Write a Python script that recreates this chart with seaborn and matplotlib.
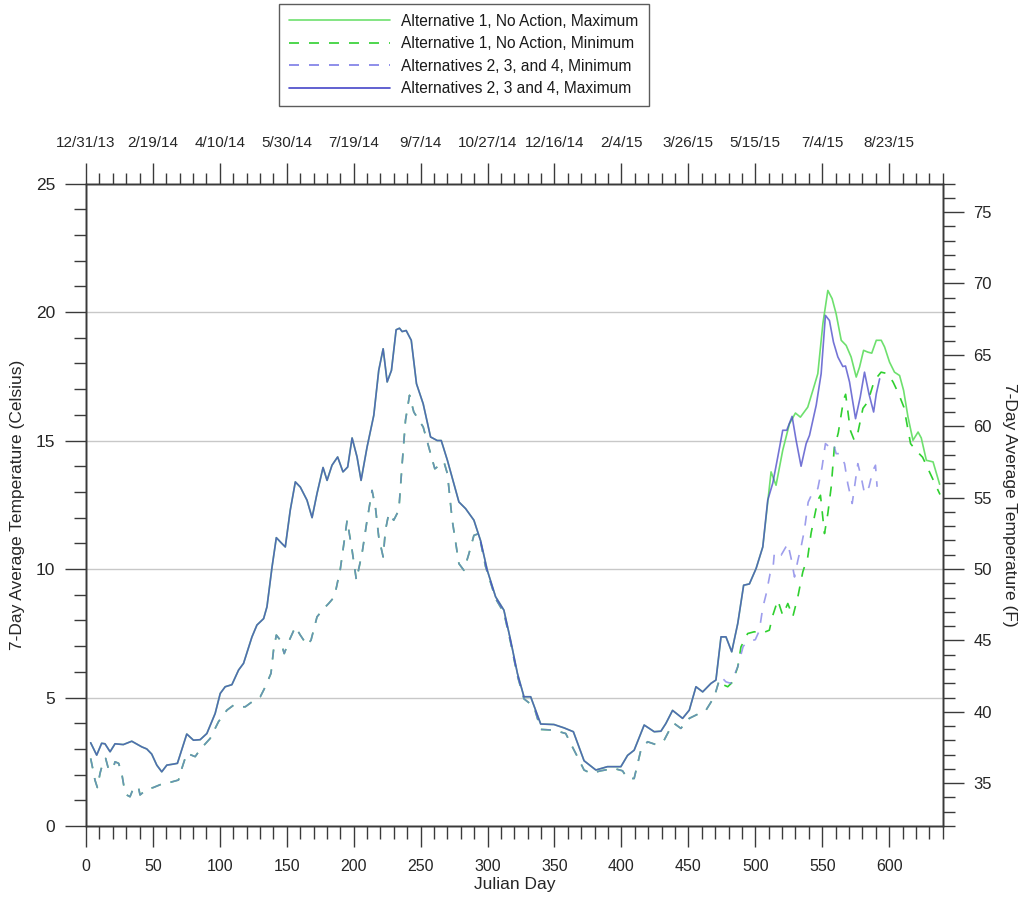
import numpy as np
import pandas as pd
import matplotlib
matplotlib.use("Agg")
import matplotlib.pyplot as plt
import seaborn as sns
from matplotlib.ticker import MultipleLocator, FixedLocator, FixedFormatter

sns.set_style("white")
plt.rcParams['font.family'] = ['Liberation Sans', 'DejaVu Sans']
plt.rcParams['text.color'] = '#1a1a1a'

# ---- 7-day average maximum, common to all alternatives until late spring 2015
shared_max_day = [3.5, 8, 11.7, 14.2, 18, 21.7, 27.9, 34.2, 41.7, 45.4, 49.1, 52.9, 56.6,
                  60.4, 65.3, 68.3, 75.3, 80.3, 85.3, 90.3, 96.5, 100.3, 104, 109, 114,
                  117.7, 124, 127.7, 132.7, 135.2, 139, 142.2, 146.4, 148.9, 152.6, 156.4,
                  160.1, 165.1, 168.9, 172.6, 177.1, 180.1, 183.8, 188, 192, 195.5, 198.8,
                  202.5, 205.5, 210, 215, 218.7, 222, 225, 228.2, 231.7, 234.2, 236.2,
                  239.2, 243, 246.9, 251.9, 257.4, 262.4, 265.4, 270, 278.6, 283.6, 289.8,
                  294.8, 299.8, 306, 312.2, 317.2, 322.3, 327.2, 332.2, 339.7, 349.6,
                  357.1, 364.1, 372.1, 380.9, 389.6, 399.6, 404.6, 409.5, 417, 424.5,
                  429.5, 433.2, 438.2, 445.7, 450.7, 455.7, 460.7, 466.9, 470.6, 474.4,
                  478.1, 482.4, 486.9, 491.3, 495.6, 500.6, 505.6]
shared_max_temp = [3.24, 2.76, 3.22, 3.2, 2.89, 3.2, 3.17, 3.3, 3.08, 3.0, 2.8, 2.37, 2.11,
                   2.37, 2.41, 2.44, 3.58, 3.34, 3.36, 3.6, 4.38, 5.16, 5.42, 5.5, 6.07,
                   6.33, 7.36, 7.82, 8.07, 8.53, 10.08, 11.22, 10.99, 10.86, 12.29, 13.39,
                   13.19, 12.68, 12.0, 12.94, 13.95, 13.45, 14.04, 14.36, 13.78, 13.97, 15.1,
                   14.36, 13.45, 14.75, 15.98, 17.73, 18.57, 17.28, 17.73, 19.31, 19.37, 19.24,
                   19.28, 18.9, 17.21, 16.43, 15.14, 15.0, 15.0, 14.23, 12.61, 12.35, 11.9,
                   11.1, 9.95, 8.92, 8.4, 7.23, 5.94, 5.03, 5.03, 3.97, 3.95,
                   3.82, 3.67, 2.54, 2.18, 2.31, 2.31, 2.75, 2.95, 3.93, 3.67,
                   3.69, 3.99, 4.5, 4.19, 4.51, 5.42, 5.22, 5.55, 5.68, 7.36,
                   7.36, 6.78, 7.88, 9.37, 9.42, 10.02, 10.86]

# ---- 7-day average minimum, common to all alternatives until late spring 2015
shared_min_day = [3.5, 5, 6.7, 8.5, 10.5, 12.5, 14.7, 16.7, 20, 21.7, 24.4, 26.7, 28.4, 30.4,
                  32.9, 35.4, 39.1, 40.4, 45.4, 50.4, 57.8, 62.9, 69.1, 71.6, 75.3, 81.6,
                  85.3, 92.8, 99, 105.3, 110.2, 114, 119, 124, 130.2, 134, 138.2, 140.1,
                  142.2, 145.2, 148.1, 151.4, 156.4, 160.1, 165.1, 168.1, 172.6, 177.6,
                  181.3, 185.6, 190, 195.1, 198.8, 202, 206.2, 210, 213.7, 216.2, 218.7,
                  222, 223.7, 226.2, 229.9, 233.7, 236.2, 238.7, 241.7, 244.9, 248.7,
                  251.9, 256.1, 260.6, 267.4, 270, 273.6, 278.6, 282.3, 286.1, 289.8,
                  293.5, 298.5, 306, 312.2, 317.2, 322.3, 327.2, 334.7, 339.7, 349.6,
                  358.4, 362.1, 367.1, 372.1, 377.1, 384.6, 394.5, 400.8, 404.6, 409.5,
                  414.5, 419.5, 425.7, 431.9, 436, 439.4, 444.4, 450.7, 458.2, 463.2,
                  469.4, 473.1]
shared_min_temp = [2.63, 2.25, 1.79, 1.5, 2.05, 2.44, 2.63, 2.24, 2.2, 2.5, 2.44, 2.05, 1.53, 1.21,
                   1.14, 1.47, 1.53, 1.21, 1.43, 1.5, 1.66, 1.7, 1.79, 2.24, 2.83, 2.7,
                   2.98, 3.41, 4.06, 4.51, 4.7, 4.64, 4.64, 4.83, 5.03, 5.42, 5.94, 6.84,
                   7.43, 7.23, 6.71, 7.17, 7.75, 7.43, 7.04, 7.23, 8.14, 8.46,
                   8.66, 8.92, 10.0, 11.9, 10.73, 9.57, 10.6, 11.9, 13.06, 12.42, 11.25,
                   10.47, 11.51, 12.16, 11.9, 12.29, 14.1, 15.79, 16.76, 16.11, 15.79,
                   15.53, 14.75, 13.9, 14.17, 13.71, 11.9, 10.21, 9.95, 10.6, 11.31,
                   11.38, 10.1, 8.85, 8.3, 7.15, 5.85, 4.95, 4.64, 3.76, 3.73,
                   3.6, 3.21, 2.7, 2.18, 2.05, 2.15, 2.24, 2.15, 1.85, 1.85,
                   2.95, 3.28, 3.17, 3.34, 3.75, 3.99, 3.8, 4.19, 4.38, 4.51,
                   5.03, 5.68]

# ---- Alternative 1 (No Action) after the alternatives separate
alt1_max_day = [509.3, 511.8, 515.5, 520.5, 525.5, 530, 533.7, 539.2, 543, 546.7, 550.5,
                554.2, 557.4, 560.4, 564.2, 567.9, 571.6, 575.4, 577.9, 580.9, 584.1, 587,
                590.4, 594.1, 596.6, 600.3, 604, 607.8, 610.8, 614.1, 617.8, 621.6, 624,
                627.8, 632.8, 637.7]
alt1_max_temp = [12.6, 13.78, 13.26, 14.62, 15.65, 16.07, 15.91, 16.3, 16.95, 17.6, 19.55,
                 20.84, 20.52, 19.93, 18.9, 18.7, 18.25, 17.47, 17.86, 18.51, 18.44, 18.4,
                 18.9, 18.9, 18.64, 18.05, 17.66, 17.53, 16.95, 15.91, 15.01, 15.33, 15.1,
                 14.23, 14.17, 13.3]
alt1_min_day = [476, 479.4, 483, 486.9, 489.3, 494.3, 499.3, 504.3, 510.5, 513.1, 516.8,
                520.5, 524.3, 528, 531.8, 535.5, 539.2, 541.7, 544.2, 546.7, 548.7, 551.7,
                554.2, 556.7, 559, 562, 566, 567.5, 571, 574, 576.6, 580.4, 584, 589, 594,
                599, 603, 607, 611, 616, 620, 625, 632, 638]
alt1_min_temp = [5.5, 5.42, 5.6, 6.19, 6.97, 7.49, 7.56, 7.49, 7.62, 8.2, 8.79,
                 8.2, 8.66, 8.14, 8.92, 9.89, 10.47, 11.4, 12.03, 12.68, 12.87, 11.38,
                 12.16, 13.19, 14.7, 15.3, 16.6, 16.8, 15.4, 15.0, 15.3, 16.25, 16.5, 17.34,
                 17.66, 17.6, 17.27, 16.83, 16.3, 14.88, 14.62, 14.35, 13.57, 12.9]

# ---- Alternatives 2, 3 and 4 after the alternatives separate
alt234_max_day = [509.3, 513.1, 516.8, 520.5, 523.5, 527.5, 530.5, 534.2, 538, 540.5, 545.5,
                  549.2, 552.4, 555.4, 558.4, 561.7, 565.4, 567.4, 570.4, 574.9, 578.4,
                  581.6, 584.9, 588.4, 590.4, 592.9]
alt234_max_temp = [12.68, 13.35, 14.36, 15.4, 15.4, 15.94, 15.01, 14.0, 14.88, 15.2, 16.37,
                   17.6, 19.87, 19.67, 18.83, 18.25, 17.88, 17.9, 17.28, 15.85, 16.69,
                   17.66, 16.82, 16.11, 16.82, 17.4]
alt234_min_day = [474.4, 478.1, 481.9, 486.9, 491, 496, 500, 503, 505.6, 508, 511, 513.1,
                  514.3, 519.3, 524.3, 526.8, 529.3, 531.8, 534.2, 536.7, 539.5, 543, 546.7,
                  549.9, 552.4, 555.4, 558.4, 560.4, 562.9, 566.7, 569.1, 572.4, 576.6,
                  579.1, 581.6, 584.9, 587.9, 589.8, 591]
alt234_min_temp = [5.81, 5.61, 5.55, 6.2, 7.0, 7.2, 7.25, 7.6, 8.5, 9.0, 9.8, 9.95,
                   10.66, 10.54, 10.99, 10.41, 9.69, 10.34, 10.86, 11.51, 12.6, 13.0, 13.13,
                   13.97, 14.88, 14.75, 14.88, 14.49, 14.49, 14.1, 13.32, 12.55, 14.1,
                   13.58, 12.94, 13.19, 13.84, 14.04, 13.2]

date_labels = ["12/31/13", "2/19/14", "4/10/14", "5/30/14", "7/19/14", "9/7/14", "10/27/14",
               "12/16/14", "2/4/15", "3/26/15", "5/15/15", "7/4/15", "8/23/15"]

series_names = ["Alternative 1, No Action, Maximum",
                "Alternative 1, No Action, Minimum",
                "Alternatives 2, 3, and 4, Minimum",
                "Alternatives 2, 3 and 4, Maximum"]


def series_frame(days, temps):
    return pd.DataFrame({"day": days, "temp": temps})


frames = [
    series_frame(shared_max_day + alt1_max_day, shared_max_temp + alt1_max_temp),
    series_frame(shared_min_day + alt1_min_day, shared_min_temp + alt1_min_temp),
    series_frame(shared_min_day + alt234_min_day, shared_min_temp + alt234_min_temp),
    series_frame(shared_max_day + alt234_max_day, shared_max_temp + alt234_max_temp),
]
colors = ["#6ee06e", "#2fd02f", "#7c7ce6", "#4646c8"]
styles = ["-", (0, (6, 6)), (0, (6, 6)), "-"]
alphas = [1.0, 1.0, 0.75, 0.75]

fig = plt.figure(figsize=(10.26, 9.01), dpi=100)
ax = fig.add_axes([0.0838, 0.0832, 0.8350, 0.7131])

for df, name, c, ls, a in zip(frames, series_names, colors, styles, alphas):
    sns.lineplot(data=df, x="day", y="temp", ax=ax, color=c, linestyle=ls, alpha=a,
                 linewidth=1.2, sort=False, estimator=None, label=name)

handles, labels = ax.get_legend_handles_labels()
ax.get_legend().remove()

axis_color = "#3a3a3a"
ax.set_xlim(0, 640)
ax.set_ylim(0, 25)
ax.xaxis.set_major_locator(MultipleLocator(50))
ax.xaxis.set_minor_locator(MultipleLocator(10))
ax.yaxis.set_major_locator(MultipleLocator(5))
ax.yaxis.set_minor_locator(MultipleLocator(1))
ax.grid(False)
for t in [5, 10, 15, 20]:
    ax.axhline(t, color="#c8c8c8", lw=1.0, zorder=0)
ax.tick_params(axis="both", which="major", direction="out", length=15, width=1,
               color=axis_color)
ax.tick_params(axis="both", which="minor", direction="out", length=8.5, width=1,
               color=axis_color)
ax.tick_params(axis="x", which="major", labelsize=11.5, pad=9, bottom=True)
ax.tick_params(axis="x", which="minor", bottom=True, length=9.5)
ax.tick_params(axis="y", which="major", labelsize=12.5, pad=7, left=True)
ax.tick_params(axis="y", which="minor", left=True)
ax.set_xlabel("Julian Day", fontsize=12.5, labelpad=2)
ax.set_ylabel("7-Day Average Temperature (Celsius)", fontsize=12.5, labelpad=8)

# Fahrenheit scale on the right
ax_f = ax.twinx()
ax_f.set_ylim(0 * 9 / 5 + 32, 25 * 9 / 5 + 32)
ax_f.yaxis.set_major_locator(FixedLocator(np.arange(35, 76, 5)))
ax_f.yaxis.set_minor_locator(MultipleLocator(1))
ax_f.tick_params(axis="y", which="major", direction="out", length=15, width=1,
                 color=axis_color, labelsize=12, pad=7)
ax_f.tick_params(axis="y", which="minor", direction="out", length=8.5, width=1,
                 color=axis_color)
ax_f.set_ylabel("7-Day Average Temperature (F)", fontsize=12.5, rotation=270, labelpad=18)

# Calendar dates along the top
ax_d = ax.twiny()
ax_d.set_xlim(ax.get_xlim())
ax_d.xaxis.set_major_locator(FixedLocator(np.arange(0, 601, 50)))
ax_d.xaxis.set_major_formatter(FixedFormatter(date_labels))
ax_d.xaxis.set_minor_locator(MultipleLocator(10))
ax_d.tick_params(axis="x", which="major", direction="out", length=15, width=1,
                 color=axis_color, labelsize=11, pad=9)
ax_d.tick_params(axis="x", which="minor", direction="out", length=8, width=1,
                 color=axis_color)

for a_ in (ax, ax_f, ax_d):
    for sp in a_.spines.values():
        sp.set_color(axis_color)
        sp.set_linewidth(1.0)

leg = fig.legend(handles, labels, loc="upper left", bbox_to_anchor=(0.272, 0.996),
                 borderaxespad=0, frameon=True, fancybox=False, edgecolor="#333333",
                 fontsize=11.2, handlelength=6.5, handletextpad=0.7, borderpad=0.65,
                 labelspacing=0.48)
leg.get_frame().set_linewidth(1.0)
for ln in leg.get_lines():
    ln.set_alpha(1.0)

fig.savefig("out.png", dpi=100)
